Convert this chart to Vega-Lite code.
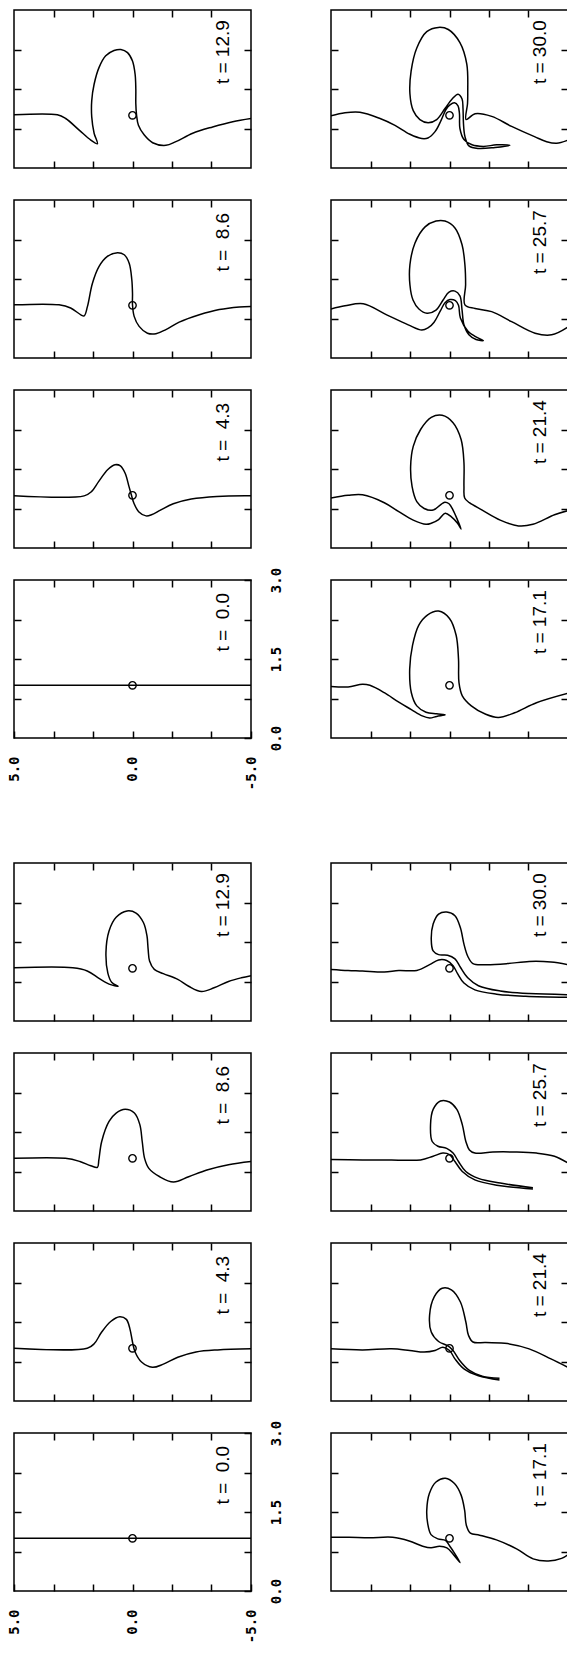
{
"$schema":"https://vega.github.io/schema/vega-lite/v6.json",
"padding":{"left":6,"top":8,"right":0,"bottom":0},
"config":{"view":{"stroke":"black","strokeWidth":1.5},"axis":{"domain":false,"grid":false,"tickColor":"black","tickWidth":1.5,"labelColor":"black","labelFont":"DejaVu Sans Mono","labelFontWeight":"bold","labelFontSize":14}},
"datasets":{
"vortex":[{"p":"A0.0","h":0,"v":1},{"p":"A4.3","h":0,"v":1},{"p":"A8.6","h":0,"v":1},{"p":"A12.9","h":0,"v":1},{"p":"A17.1","h":0,"v":1},{"p":"A21.4","h":0,"v":1},{"p":"A25.7","h":0,"v":1},{"p":"A30.0","h":0,"v":1},{"p":"B0.0","h":0,"v":1},{"p":"B4.3","h":0,"v":1},{"p":"B8.6","h":0,"v":1},{"p":"B12.9","h":0,"v":1},{"p":"B17.1","h":0,"v":1},{"p":"B21.4","h":0,"v":1},{"p":"B25.7","h":0,"v":1},{"p":"B30.0","h":0,"v":1}],
"tags":[{"p":"A0.0","label":"t = \u00a00.0"},{"p":"A4.3","label":"t = \u00a04.3"},{"p":"A8.6","label":"t = \u00a08.6"},{"p":"A12.9","label":"t = 12.9"},{"p":"A17.1","label":"t = 17.1"},{"p":"A21.4","label":"t = 21.4"},{"p":"A25.7","label":"t = 25.7"},{"p":"A30.0","label":"t = 30.0"},{"p":"B0.0","label":"t = \u00a00.0"},{"p":"B4.3","label":"t = \u00a04.3"},{"p":"B8.6","label":"t = \u00a08.6"},{"p":"B12.9","label":"t = 12.9"},{"p":"B17.1","label":"t = 17.1"},{"p":"B21.4","label":"t = 21.4"},{"p":"B25.7","label":"t = 25.7"},{"p":"B30.0","label":"t = 30.0"}],
"curves":[
{"p":"A0.0","s":1,"i":1,"h":5,"v":1},{"p":"A0.0","s":1,"i":2,"h":-5,"v":1},
{"p":"B0.0","s":1,"i":1,"h":5,"v":1},{"p":"B0.0","s":1,"i":2,"h":-5,"v":1},
{"p":"A4.3","s":1,"i":1,"h":5,"v":0.99},{"p":"A4.3","s":1,"i":2,"h":2.04,"v":0.99},{"p":"A4.3","s":1,"i":3,"h":1.73,"v":1.07},{"p":"A4.3","s":1,"i":4,"h":1.43,"v":1.26},{"p":"A4.3","s":1,"i":5,"h":1.04,"v":1.49},{"p":"A4.3","s":1,"i":6,"h":0.74,"v":1.58},{"p":"A4.3","s":1,"i":7,"h":0.51,"v":1.56},{"p":"A4.3","s":1,"i":8,"h":0.31,"v":1.42},{"p":"A4.3","s":1,"i":9,"h":0.15,"v":1.17},{"p":"A4.3","s":1,"i":10,"h":0.05,"v":1.01},{"p":"A4.3","s":1,"i":11,"h":-0.06,"v":0.85},{"p":"A4.3","s":1,"i":12,"h":-0.26,"v":0.69},{"p":"A4.3","s":1,"i":13,"h":-0.57,"v":0.61},{"p":"A4.3","s":1,"i":14,"h":-0.8,"v":0.63},{"p":"A4.3","s":1,"i":15,"h":-1.18,"v":0.72},{"p":"A4.3","s":1,"i":16,"h":-1.72,"v":0.84},{"p":"A4.3","s":1,"i":17,"h":-2.48,"v":0.93},{"p":"A4.3","s":1,"i":18,"h":-3.56,"v":0.98},{"p":"A4.3","s":1,"i":19,"h":-5,"v":0.99},
{"p":"A8.6","s":1,"i":1,"h":5,"v":1.01},{"p":"A8.6","s":1,"i":2,"h":3.1,"v":1.01},{"p":"A8.6","s":1,"i":3,"h":2.61,"v":0.95},{"p":"A8.6","s":1,"i":4,"h":2.18,"v":0.82},{"p":"A8.6","s":1,"i":5,"h":2.04,"v":0.8},{"p":"A8.6","s":1,"i":6,"h":1.9,"v":0.98},{"p":"A8.6","s":1,"i":7,"h":1.69,"v":1.42},{"p":"A8.6","s":1,"i":8,"h":1.41,"v":1.74},{"p":"A8.6","s":1,"i":9,"h":1.06,"v":1.93},{"p":"A8.6","s":1,"i":10,"h":0.63,"v":2.0},{"p":"A8.6","s":1,"i":11,"h":0.35,"v":1.96},{"p":"A8.6","s":1,"i":12,"h":0.14,"v":1.8},{"p":"A8.6","s":1,"i":13,"h":0.03,"v":1.49},{"p":"A8.6","s":1,"i":14,"h":0,"v":1.23},{"p":"A8.6","s":1,"i":15,"h":0,"v":1.01},{"p":"A8.6","s":1,"i":16,"h":-0.07,"v":0.79},{"p":"A8.6","s":1,"i":17,"h":-0.28,"v":0.6},{"p":"A8.6","s":1,"i":18,"h":-0.63,"v":0.47},{"p":"A8.6","s":1,"i":19,"h":-0.99,"v":0.46},{"p":"A8.6","s":1,"i":20,"h":-1.41,"v":0.54},{"p":"A8.6","s":1,"i":21,"h":-1.97,"v":0.68},{"p":"A8.6","s":1,"i":22,"h":-2.82,"v":0.82},{"p":"A8.6","s":1,"i":23,"h":-3.66,"v":0.92},{"p":"A8.6","s":1,"i":24,"h":-4.51,"v":0.97},{"p":"A8.6","s":1,"i":25,"h":-5,"v":0.98},
{"p":"A12.9","s":1,"i":1,"h":5,"v":1.01},{"p":"A12.9","s":1,"i":2,"h":3.17,"v":1.01},{"p":"A12.9","s":1,"i":3,"h":2.82,"v":0.94},{"p":"A12.9","s":1,"i":4,"h":2.25,"v":0.72},{"p":"A12.9","s":1,"i":5,"h":1.76,"v":0.53},{"p":"A12.9","s":1,"i":6,"h":1.48,"v":0.46},{"p":"A12.9","s":1,"i":7,"h":1.62,"v":0.66},{"p":"A12.9","s":1,"i":8,"h":1.72,"v":0.97},{"p":"A12.9","s":1,"i":9,"h":1.72,"v":1.28},{"p":"A12.9","s":1,"i":10,"h":1.62,"v":1.59},{"p":"A12.9","s":1,"i":11,"h":1.41,"v":1.91},{"p":"A12.9","s":1,"i":12,"h":1.13,"v":2.13},{"p":"A12.9","s":1,"i":13,"h":0.78,"v":2.23},{"p":"A12.9","s":1,"i":14,"h":0.49,"v":2.25},{"p":"A12.9","s":1,"i":15,"h":0.21,"v":2.19},{"p":"A12.9","s":1,"i":16,"h":0,"v":2.03},{"p":"A12.9","s":1,"i":17,"h":-0.11,"v":1.78},{"p":"A12.9","s":1,"i":18,"h":-0.14,"v":1.5},{"p":"A12.9","s":1,"i":19,"h":-0.14,"v":1.22},{"p":"A12.9","s":1,"i":20,"h":-0.17,"v":1.01},{"p":"A12.9","s":1,"i":21,"h":-0.25,"v":0.81},{"p":"A12.9","s":1,"i":22,"h":-0.49,"v":0.63},{"p":"A12.9","s":1,"i":23,"h":-0.85,"v":0.48},{"p":"A12.9","s":1,"i":24,"h":-1.41,"v":0.43},{"p":"A12.9","s":1,"i":25,"h":-1.83,"v":0.5},{"p":"A12.9","s":1,"i":26,"h":-2.54,"v":0.66},{"p":"A12.9","s":1,"i":27,"h":-3.38,"v":0.78},{"p":"A12.9","s":1,"i":28,"h":-4.23,"v":0.88},{"p":"A12.9","s":1,"i":29,"h":-5,"v":0.94},
{"p":"A17.1","s":1,"i":1,"h":-5,"v":0.85},{"p":"A17.1","s":1,"i":2,"h":-3.67,"v":0.67},{"p":"A17.1","s":1,"i":3,"h":-2.75,"v":0.48},{"p":"A17.1","s":1,"i":4,"h":-2.06,"v":0.39},{"p":"A17.1","s":1,"i":5,"h":-1.53,"v":0.45},{"p":"A17.1","s":1,"i":6,"h":-0.92,"v":0.61},{"p":"A17.1","s":1,"i":7,"h":-0.54,"v":0.8},{"p":"A17.1","s":1,"i":8,"h":-0.4,"v":1.05},{"p":"A17.1","s":1,"i":9,"h":-0.38,"v":1.5},{"p":"A17.1","s":1,"i":10,"h":-0.28,"v":1.95},{"p":"A17.1","s":1,"i":11,"h":0,"v":2.27},{"p":"A17.1","s":1,"i":12,"h":0.46,"v":2.41},{"p":"A17.1","s":1,"i":13,"h":0.92,"v":2.34},{"p":"A17.1","s":1,"i":14,"h":1.3,"v":2.14},{"p":"A17.1","s":1,"i":15,"h":1.56,"v":1.76},{"p":"A17.1","s":1,"i":16,"h":1.68,"v":1.31},{"p":"A17.1","s":1,"i":17,"h":1.61,"v":0.86},{"p":"A17.1","s":1,"i":18,"h":1.38,"v":0.61},{"p":"A17.1","s":1,"i":19,"h":0.99,"v":0.49},{"p":"A17.1","s":1,"i":20,"h":0.54,"v":0.46},{"p":"A17.1","s":1,"i":21,"h":0.18,"v":0.44},{"p":"A17.1","s":1,"i":22,"h":0.54,"v":0.41},{"p":"A17.1","s":1,"i":23,"h":0.84,"v":0.38},{"p":"A17.1","s":1,"i":24,"h":1.15,"v":0.42},{"p":"A17.1","s":1,"i":25,"h":1.61,"v":0.54},{"p":"A17.1","s":1,"i":26,"h":2.14,"v":0.68},{"p":"A17.1","s":1,"i":27,"h":2.75,"v":0.86},{"p":"A17.1","s":1,"i":28,"h":3.36,"v":1.0},{"p":"A17.1","s":1,"i":29,"h":3.67,"v":1.02},{"p":"A17.1","s":1,"i":30,"h":4.28,"v":0.97},{"p":"A17.1","s":1,"i":31,"h":5,"v":0.98},
{"p":"A21.4","s":1,"i":1,"h":-5,"v":0.71},{"p":"A21.4","s":1,"i":2,"h":-4.43,"v":0.63},{"p":"A21.4","s":1,"i":3,"h":-3.52,"v":0.45},{"p":"A21.4","s":1,"i":4,"h":-2.91,"v":0.42},{"p":"A21.4","s":1,"i":5,"h":-2.14,"v":0.53},{"p":"A21.4","s":1,"i":6,"h":-1.38,"v":0.72},{"p":"A21.4","s":1,"i":7,"h":-0.84,"v":0.86},{"p":"A21.4","s":1,"i":8,"h":-0.64,"v":0.95},{"p":"A21.4","s":1,"i":9,"h":-0.61,"v":1.17},{"p":"A21.4","s":1,"i":10,"h":-0.61,"v":1.62},{"p":"A21.4","s":1,"i":11,"h":-0.49,"v":2.06},{"p":"A21.4","s":1,"i":12,"h":-0.15,"v":2.38},{"p":"A21.4","s":1,"i":13,"h":0.31,"v":2.52},{"p":"A21.4","s":1,"i":14,"h":0.77,"v":2.48},{"p":"A21.4","s":1,"i":15,"h":1.22,"v":2.25},{"p":"A21.4","s":1,"i":16,"h":1.53,"v":1.93},{"p":"A21.4","s":1,"i":17,"h":1.64,"v":1.55},{"p":"A21.4","s":1,"i":18,"h":1.58,"v":1.17},{"p":"A21.4","s":1,"i":19,"h":1.38,"v":0.88},{"p":"A21.4","s":1,"i":20,"h":1.07,"v":0.75},{"p":"A21.4","s":1,"i":21,"h":0.69,"v":0.72},{"p":"A21.4","s":1,"i":22,"h":0.38,"v":0.82},{"p":"A21.4","s":1,"i":23,"h":0.2,"v":0.87},{"p":"A21.4","s":1,"i":24,"h":0.02,"v":0.84},{"p":"A21.4","s":1,"i":25,"h":-0.15,"v":0.72},{"p":"A21.4","s":1,"i":26,"h":-0.34,"v":0.53},{"p":"A21.4","s":1,"i":27,"h":-0.49,"v":0.36},{"p":"A21.4","s":1,"i":28,"h":-0.34,"v":0.47},{"p":"A21.4","s":1,"i":29,"h":-0.08,"v":0.59},{"p":"A21.4","s":1,"i":30,"h":0.18,"v":0.66},{"p":"A21.4","s":1,"i":31,"h":0.46,"v":0.54},{"p":"A21.4","s":1,"i":32,"h":0.77,"v":0.47},{"p":"A21.4","s":1,"i":33,"h":0.99,"v":0.45},{"p":"A21.4","s":1,"i":34,"h":1.53,"v":0.53},{"p":"A21.4","s":1,"i":35,"h":2.14,"v":0.69},{"p":"A21.4","s":1,"i":36,"h":2.75,"v":0.86},{"p":"A21.4","s":1,"i":37,"h":3.67,"v":1.01},{"p":"A21.4","s":1,"i":38,"h":4.28,"v":1.0},{"p":"A21.4","s":1,"i":39,"h":5,"v":0.95},
{"p":"A25.7","s":1,"i":1,"h":-5,"v":0.59},{"p":"A25.7","s":1,"i":2,"h":-4.31,"v":0.44},{"p":"A25.7","s":1,"i":3,"h":-3.61,"v":0.47},{"p":"A25.7","s":1,"i":4,"h":-2.62,"v":0.69},{"p":"A25.7","s":1,"i":5,"h":-1.78,"v":0.88},{"p":"A25.7","s":1,"i":6,"h":-1.08,"v":0.94},{"p":"A25.7","s":1,"i":7,"h":-0.65,"v":1.01},{"p":"A25.7","s":1,"i":8,"h":-0.68,"v":1.39},{"p":"A25.7","s":1,"i":9,"h":-0.65,"v":1.77},{"p":"A25.7","s":1,"i":10,"h":-0.53,"v":2.15},{"p":"A25.7","s":1,"i":11,"h":-0.23,"v":2.47},{"p":"A25.7","s":1,"i":12,"h":0.19,"v":2.6},{"p":"A25.7","s":1,"i":13,"h":0.57,"v":2.6},{"p":"A25.7","s":1,"i":14,"h":1.03,"v":2.49},{"p":"A25.7","s":1,"i":15,"h":1.46,"v":2.18},{"p":"A25.7","s":1,"i":16,"h":1.67,"v":1.77},{"p":"A25.7","s":1,"i":17,"h":1.67,"v":1.39},{"p":"A25.7","s":1,"i":18,"h":1.54,"v":1.1},{"p":"A25.7","s":1,"i":19,"h":1.29,"v":0.93},{"p":"A25.7","s":1,"i":20,"h":0.95,"v":0.85},{"p":"A25.7","s":1,"i":21,"h":0.57,"v":0.91},{"p":"A25.7","s":1,"i":22,"h":0.27,"v":1.1},{"p":"A25.7","s":1,"i":23,"h":0.02,"v":1.25},{"p":"A25.7","s":1,"i":24,"h":-0.23,"v":1.27},{"p":"A25.7","s":1,"i":25,"h":-0.44,"v":1.18},{"p":"A25.7","s":1,"i":26,"h":-0.53,"v":0.91},{"p":"A25.7","s":1,"i":27,"h":-0.61,"v":0.63},{"p":"A25.7","s":1,"i":28,"h":-0.82,"v":0.44},{"p":"A25.7","s":1,"i":29,"h":-1.12,"v":0.35},{"p":"A25.7","s":1,"i":30,"h":-1.43,"v":0.33},{"p":"A25.7","s":1,"i":31,"h":-1.08,"v":0.41},{"p":"A25.7","s":1,"i":32,"h":-0.78,"v":0.51},{"p":"A25.7","s":1,"i":33,"h":-0.46,"v":0.76},{"p":"A25.7","s":1,"i":34,"h":-0.38,"v":1.0},{"p":"A25.7","s":1,"i":35,"h":-0.25,"v":1.09},{"p":"A25.7","s":1,"i":36,"h":-0.02,"v":1.11},{"p":"A25.7","s":1,"i":37,"h":0.19,"v":1.05},{"p":"A25.7","s":1,"i":38,"h":0.38,"v":0.9},{"p":"A25.7","s":1,"i":39,"h":0.65,"v":0.68},{"p":"A25.7","s":1,"i":40,"h":0.91,"v":0.57},{"p":"A25.7","s":1,"i":41,"h":1.17,"v":0.53},{"p":"A25.7","s":1,"i":42,"h":1.74,"v":0.63},{"p":"A25.7","s":1,"i":43,"h":2.65,"v":0.82},{"p":"A25.7","s":1,"i":44,"h":3.64,"v":1.03},{"p":"A25.7","s":1,"i":45,"h":4.41,"v":0.99},{"p":"A25.7","s":1,"i":46,"h":5,"v":0.93},
{"p":"A30.0","s":1,"i":1,"h":-5,"v":0.53},{"p":"A30.0","s":1,"i":2,"h":-4.52,"v":0.47},{"p":"A30.0","s":1,"i":3,"h":-4.1,"v":0.5},{"p":"A30.0","s":1,"i":4,"h":-3.61,"v":0.59},{"p":"A30.0","s":1,"i":5,"h":-2.62,"v":0.79},{"p":"A30.0","s":1,"i":6,"h":-1.78,"v":0.98},{"p":"A30.0","s":1,"i":7,"h":-1.08,"v":1.03},{"p":"A30.0","s":1,"i":8,"h":-0.7,"v":0.92},{"p":"A30.0","s":1,"i":9,"h":-0.76,"v":1.22},{"p":"A30.0","s":1,"i":10,"h":-0.77,"v":1.44},{"p":"A30.0","s":1,"i":11,"h":-0.73,"v":1.97},{"p":"A30.0","s":1,"i":12,"h":-0.44,"v":2.38},{"p":"A30.0","s":1,"i":13,"h":0.05,"v":2.63},{"p":"A30.0","s":1,"i":14,"h":0.47,"v":2.67},{"p":"A30.0","s":1,"i":15,"h":0.96,"v":2.59},{"p":"A30.0","s":1,"i":16,"h":1.38,"v":2.28},{"p":"A30.0","s":1,"i":17,"h":1.62,"v":1.84},{"p":"A30.0","s":1,"i":18,"h":1.67,"v":1.41},{"p":"A30.0","s":1,"i":19,"h":1.53,"v":1.09},{"p":"A30.0","s":1,"i":20,"h":1.25,"v":0.92},{"p":"A30.0","s":1,"i":21,"h":0.9,"v":0.86},{"p":"A30.0","s":1,"i":22,"h":0.54,"v":0.92},{"p":"A30.0","s":1,"i":23,"h":0.19,"v":1.13},{"p":"A30.0","s":1,"i":24,"h":-0.11,"v":1.31},{"p":"A30.0","s":1,"i":25,"h":-0.36,"v":1.4},{"p":"A30.0","s":1,"i":26,"h":-0.53,"v":1.31},{"p":"A30.0","s":1,"i":27,"h":-0.57,"v":1.13},{"p":"A30.0","s":1,"i":28,"h":-0.59,"v":0.84},{"p":"A30.0","s":1,"i":29,"h":-0.65,"v":0.6},{"p":"A30.0","s":1,"i":30,"h":-0.82,"v":0.42},{"p":"A30.0","s":1,"i":31,"h":-1.22,"v":0.37},{"p":"A30.0","s":1,"i":32,"h":-1.92,"v":0.39},{"p":"A30.0","s":1,"i":33,"h":-2.55,"v":0.43},{"p":"A30.0","s":1,"i":34,"h":-1.99,"v":0.44},{"p":"A30.0","s":1,"i":35,"h":-1.43,"v":0.41},{"p":"A30.0","s":1,"i":36,"h":-0.95,"v":0.44},{"p":"A30.0","s":1,"i":37,"h":-0.61,"v":0.54},{"p":"A30.0","s":1,"i":38,"h":-0.44,"v":0.75},{"p":"A30.0","s":1,"i":39,"h":-0.42,"v":1.03},{"p":"A30.0","s":1,"i":40,"h":-0.36,"v":1.18},{"p":"A30.0","s":1,"i":41,"h":-0.21,"v":1.24},{"p":"A30.0","s":1,"i":42,"h":-0.02,"v":1.2},{"p":"A30.0","s":1,"i":43,"h":0.15,"v":1.11},{"p":"A30.0","s":1,"i":44,"h":0.36,"v":0.9},{"p":"A30.0","s":1,"i":45,"h":0.61,"v":0.69},{"p":"A30.0","s":1,"i":46,"h":0.91,"v":0.57},{"p":"A30.0","s":1,"i":47,"h":1.17,"v":0.56},{"p":"A30.0","s":1,"i":48,"h":1.67,"v":0.64},{"p":"A30.0","s":1,"i":49,"h":2.3,"v":0.81},{"p":"A30.0","s":1,"i":50,"h":2.93,"v":0.94},{"p":"A30.0","s":1,"i":51,"h":3.78,"v":1.06},{"p":"A30.0","s":1,"i":52,"h":4.41,"v":1.05},{"p":"A30.0","s":1,"i":53,"h":5,"v":0.99},
{"p":"B4.3","s":1,"i":1,"h":5,"v":1.0},{"p":"B4.3","s":1,"i":2,"h":1.91,"v":1.0},{"p":"B4.3","s":1,"i":3,"h":1.61,"v":1.09},{"p":"B4.3","s":1,"i":4,"h":1.3,"v":1.31},{"p":"B4.3","s":1,"i":5,"h":0.92,"v":1.51},{"p":"B4.3","s":1,"i":6,"h":0.54,"v":1.6},{"p":"B4.3","s":1,"i":7,"h":0.26,"v":1.55},{"p":"B4.3","s":1,"i":8,"h":0.11,"v":1.37},{"p":"B4.3","s":1,"i":9,"h":0,"v":1.12},{"p":"B4.3","s":1,"i":10,"h":-0.11,"v":0.93},{"p":"B4.3","s":1,"i":11,"h":-0.38,"v":0.74},{"p":"B4.3","s":1,"i":12,"h":-0.84,"v":0.64},{"p":"B4.3","s":1,"i":13,"h":-1.3,"v":0.7},{"p":"B4.3","s":1,"i":14,"h":-1.91,"v":0.83},{"p":"B4.3","s":1,"i":15,"h":-2.68,"v":0.93},{"p":"B4.3","s":1,"i":16,"h":-3.59,"v":0.97},{"p":"B4.3","s":1,"i":17,"h":-5,"v":0.99},
{"p":"B8.6","s":1,"i":1,"h":5,"v":1.0},{"p":"B8.6","s":1,"i":2,"h":2.83,"v":1.0},{"p":"B8.6","s":1,"i":3,"h":2.22,"v":0.94},{"p":"B8.6","s":1,"i":4,"h":1.76,"v":0.86},{"p":"B8.6","s":1,"i":5,"h":1.48,"v":0.83},{"p":"B8.6","s":1,"i":6,"h":1.42,"v":0.97},{"p":"B8.6","s":1,"i":7,"h":1.3,"v":1.32},{"p":"B8.6","s":1,"i":8,"h":0.99,"v":1.7},{"p":"B8.6","s":1,"i":9,"h":0.69,"v":1.86},{"p":"B8.6","s":1,"i":10,"h":0.31,"v":1.93},{"p":"B8.6","s":1,"i":11,"h":-0.08,"v":1.86},{"p":"B8.6","s":1,"i":12,"h":-0.31,"v":1.64},{"p":"B8.6","s":1,"i":13,"h":-0.41,"v":1.32},{"p":"B8.6","s":1,"i":14,"h":-0.51,"v":1.0},{"p":"B8.6","s":1,"i":15,"h":-0.69,"v":0.81},{"p":"B8.6","s":1,"i":16,"h":-1.15,"v":0.65},{"p":"B8.6","s":1,"i":17,"h":-1.73,"v":0.55},{"p":"B8.6","s":1,"i":18,"h":-2.37,"v":0.65},{"p":"B8.6","s":1,"i":19,"h":-3.14,"v":0.78},{"p":"B8.6","s":1,"i":20,"h":-4.05,"v":0.88},{"p":"B8.6","s":1,"i":21,"h":-5,"v":0.94},
{"p":"B12.9","s":1,"i":1,"h":5,"v":1.01},{"p":"B12.9","s":1,"i":2,"h":2.52,"v":1.01},{"p":"B12.9","s":1,"i":3,"h":1.91,"v":0.95},{"p":"B12.9","s":1,"i":4,"h":1.38,"v":0.8},{"p":"B12.9","s":1,"i":5,"h":0.92,"v":0.69},{"p":"B12.9","s":1,"i":6,"h":0.61,"v":0.66},{"p":"B12.9","s":1,"i":7,"h":0.87,"v":0.73},{"p":"B12.9","s":1,"i":8,"h":1.04,"v":0.91},{"p":"B12.9","s":1,"i":9,"h":1.12,"v":1.3},{"p":"B12.9","s":1,"i":10,"h":0.99,"v":1.71},{"p":"B12.9","s":1,"i":11,"h":0.69,"v":1.97},{"p":"B12.9","s":1,"i":12,"h":0.23,"v":2.09},{"p":"B12.9","s":1,"i":13,"h":-0.15,"v":2.05},{"p":"B12.9","s":1,"i":14,"h":-0.46,"v":1.87},{"p":"B12.9","s":1,"i":15,"h":-0.61,"v":1.62},{"p":"B12.9","s":1,"i":16,"h":-0.66,"v":1.36},{"p":"B12.9","s":1,"i":17,"h":-0.72,"v":1.14},{"p":"B12.9","s":1,"i":18,"h":-0.92,"v":0.98},{"p":"B12.9","s":1,"i":19,"h":-1.3,"v":0.9},{"p":"B12.9","s":1,"i":20,"h":-1.91,"v":0.79},{"p":"B12.9","s":1,"i":21,"h":-2.37,"v":0.66},{"p":"B12.9","s":1,"i":22,"h":-2.91,"v":0.56},{"p":"B12.9","s":1,"i":23,"h":-3.44,"v":0.63},{"p":"B12.9","s":1,"i":24,"h":-4.05,"v":0.75},{"p":"B12.9","s":1,"i":25,"h":-4.59,"v":0.82},{"p":"B12.9","s":1,"i":26,"h":-5,"v":0.86},
{"p":"B17.1","s":1,"i":1,"h":5,"v":1.02},{"p":"B17.1","s":1,"i":2,"h":4.24,"v":1.02},{"p":"B17.1","s":1,"i":3,"h":3.39,"v":1.01},{"p":"B17.1","s":1,"i":4,"h":2.4,"v":1.02},{"p":"B17.1","s":1,"i":5,"h":1.7,"v":0.95},{"p":"B17.1","s":1,"i":6,"h":1.13,"v":0.85},{"p":"B17.1","s":1,"i":7,"h":0.78,"v":0.82},{"p":"B17.1","s":1,"i":8,"h":0.42,"v":0.85},{"p":"B17.1","s":1,"i":9,"h":0.11,"v":0.82},{"p":"B17.1","s":1,"i":10,"h":-0.17,"v":0.69},{"p":"B17.1","s":1,"i":11,"h":-0.45,"v":0.54},{"p":"B17.1","s":1,"i":12,"h":-0.21,"v":0.72},{"p":"B17.1","s":1,"i":13,"h":0,"v":0.86},{"p":"B17.1","s":1,"i":14,"h":0.17,"v":0.96},{"p":"B17.1","s":1,"i":15,"h":0.49,"v":0.99},{"p":"B17.1","s":1,"i":16,"h":0.78,"v":1.07},{"p":"B17.1","s":1,"i":17,"h":0.92,"v":1.28},{"p":"B17.1","s":1,"i":18,"h":0.96,"v":1.53},{"p":"B17.1","s":1,"i":19,"h":0.85,"v":1.85},{"p":"B17.1","s":1,"i":20,"h":0.57,"v":2.07},{"p":"B17.1","s":1,"i":21,"h":0.17,"v":2.14},{"p":"B17.1","s":1,"i":22,"h":-0.21,"v":2.04},{"p":"B17.1","s":1,"i":23,"h":-0.49,"v":1.82},{"p":"B17.1","s":1,"i":24,"h":-0.64,"v":1.53},{"p":"B17.1","s":1,"i":25,"h":-0.71,"v":1.25},{"p":"B17.1","s":1,"i":26,"h":-0.88,"v":1.1},{"p":"B17.1","s":1,"i":27,"h":-1.27,"v":1.06},{"p":"B17.1","s":1,"i":28,"h":-1.98,"v":0.97},{"p":"B17.1","s":1,"i":29,"h":-2.83,"v":0.8},{"p":"B17.1","s":1,"i":30,"h":-3.53,"v":0.61},{"p":"B17.1","s":1,"i":31,"h":-4.17,"v":0.57},{"p":"B17.1","s":1,"i":32,"h":-4.73,"v":0.62},{"p":"B17.1","s":1,"i":33,"h":-5,"v":0.69},
{"p":"B21.4","s":1,"i":1,"h":5,"v":0.99},{"p":"B21.4","s":1,"i":2,"h":3.67,"v":0.97},{"p":"B21.4","s":1,"i":3,"h":2.45,"v":0.99},{"p":"B21.4","s":1,"i":4,"h":1.68,"v":0.96},{"p":"B21.4","s":1,"i":5,"h":1.07,"v":0.93},{"p":"B21.4","s":1,"i":6,"h":0.61,"v":0.96},{"p":"B21.4","s":1,"i":7,"h":0.28,"v":1.02},{"p":"B21.4","s":1,"i":8,"h":0,"v":0.96},{"p":"B21.4","s":1,"i":9,"h":-0.23,"v":0.8},{"p":"B21.4","s":1,"i":10,"h":-0.61,"v":0.61},{"p":"B21.4","s":1,"i":11,"h":-1.22,"v":0.48},{"p":"B21.4","s":1,"i":12,"h":-2.11,"v":0.4},
{"p":"B21.4","s":2,"i":1,"h":-5,"v":0.64},{"p":"B21.4","s":2,"i":2,"h":-4.28,"v":0.8},{"p":"B21.4","s":2,"i":3,"h":-3.36,"v":0.99},{"p":"B21.4","s":2,"i":4,"h":-2.45,"v":1.09},{"p":"B21.4","s":2,"i":5,"h":-1.53,"v":1.11},{"p":"B21.4","s":2,"i":6,"h":-0.99,"v":1.12},{"p":"B21.4","s":2,"i":7,"h":-0.8,"v":1.25},{"p":"B21.4","s":2,"i":8,"h":-0.69,"v":1.5},{"p":"B21.4","s":2,"i":9,"h":-0.46,"v":1.88},{"p":"B21.4","s":2,"i":10,"h":-0.08,"v":2.11},{"p":"B21.4","s":2,"i":11,"h":0.31,"v":2.14},{"p":"B21.4","s":2,"i":12,"h":0.64,"v":1.98},{"p":"B21.4","s":2,"i":13,"h":0.84,"v":1.63},{"p":"B21.4","s":2,"i":14,"h":0.77,"v":1.31},{"p":"B21.4","s":2,"i":15,"h":0.46,"v":1.13},{"p":"B21.4","s":2,"i":16,"h":0.08,"v":1.05},{"p":"B21.4","s":2,"i":17,"h":-0.15,"v":0.96},{"p":"B21.4","s":2,"i":18,"h":-0.43,"v":0.77},{"p":"B21.4","s":2,"i":19,"h":-0.84,"v":0.58},{"p":"B21.4","s":2,"i":20,"h":-1.38,"v":0.47},{"p":"B21.4","s":2,"i":21,"h":-2.11,"v":0.43},
{"p":"B25.7","s":1,"i":1,"h":5,"v":0.98},{"p":"B25.7","s":1,"i":2,"h":3.67,"v":0.97},{"p":"B25.7","s":1,"i":3,"h":2.45,"v":0.97},{"p":"B25.7","s":1,"i":4,"h":1.22,"v":0.97},{"p":"B25.7","s":1,"i":5,"h":0.69,"v":1.04},{"p":"B25.7","s":1,"i":6,"h":0.28,"v":1.1},{"p":"B25.7","s":1,"i":7,"h":0,"v":1.07},{"p":"B25.7","s":1,"i":8,"h":-0.23,"v":0.94},{"p":"B25.7","s":1,"i":9,"h":-0.54,"v":0.75},{"p":"B25.7","s":1,"i":10,"h":-1.07,"v":0.59},{"p":"B25.7","s":1,"i":11,"h":-1.99,"v":0.49},{"p":"B25.7","s":1,"i":12,"h":-3.52,"v":0.42},
{"p":"B25.7","s":2,"i":1,"h":-5,"v":0.91},{"p":"B25.7","s":2,"i":2,"h":-4.43,"v":1.04},{"p":"B25.7","s":2,"i":3,"h":-3.67,"v":1.1},{"p":"B25.7","s":2,"i":4,"h":-2.75,"v":1.12},{"p":"B25.7","s":2,"i":5,"h":-1.83,"v":1.12},{"p":"B25.7","s":2,"i":6,"h":-1.07,"v":1.1},{"p":"B25.7","s":2,"i":7,"h":-0.84,"v":1.16},{"p":"B25.7","s":2,"i":8,"h":-0.69,"v":1.32},{"p":"B25.7","s":2,"i":9,"h":-0.54,"v":1.64},{"p":"B25.7","s":2,"i":10,"h":-0.31,"v":1.93},{"p":"B25.7","s":2,"i":11,"h":0,"v":2.07},{"p":"B25.7","s":2,"i":12,"h":0.38,"v":2.09},{"p":"B25.7","s":2,"i":13,"h":0.69,"v":1.93},{"p":"B25.7","s":2,"i":14,"h":0.8,"v":1.64},{"p":"B25.7","s":2,"i":15,"h":0.73,"v":1.32},{"p":"B25.7","s":2,"i":16,"h":0.49,"v":1.23},{"p":"B25.7","s":2,"i":17,"h":0.12,"v":1.19},{"p":"B25.7","s":2,"i":18,"h":-0.15,"v":1.1},{"p":"B25.7","s":2,"i":19,"h":-0.38,"v":0.94},{"p":"B25.7","s":2,"i":20,"h":-0.69,"v":0.75},{"p":"B25.7","s":2,"i":21,"h":-1.22,"v":0.62},{"p":"B25.7","s":2,"i":22,"h":-2.14,"v":0.53},{"p":"B25.7","s":2,"i":23,"h":-3.52,"v":0.44},
{"p":"B30.0","s":1,"i":1,"h":5,"v":0.98},{"p":"B30.0","s":1,"i":2,"h":4.28,"v":0.96},{"p":"B30.0","s":1,"i":3,"h":3.67,"v":0.95},{"p":"B30.0","s":1,"i":4,"h":2.75,"v":0.93},{"p":"B30.0","s":1,"i":5,"h":2.14,"v":0.96},{"p":"B30.0","s":1,"i":6,"h":1.38,"v":0.96},{"p":"B30.0","s":1,"i":7,"h":0.84,"v":1.07},{"p":"B30.0","s":1,"i":8,"h":0.46,"v":1.16},{"p":"B30.0","s":1,"i":9,"h":0.12,"v":1.15},{"p":"B30.0","s":1,"i":10,"h":-0.15,"v":1.05},{"p":"B30.0","s":1,"i":11,"h":-0.34,"v":0.9},{"p":"B30.0","s":1,"i":12,"h":-0.61,"v":0.72},{"p":"B30.0","s":1,"i":13,"h":-1.07,"v":0.59},{"p":"B30.0","s":1,"i":14,"h":-1.99,"v":0.51},{"p":"B30.0","s":1,"i":15,"h":-3.21,"v":0.47},{"p":"B30.0","s":1,"i":16,"h":-5,"v":0.45},
{"p":"B30.0","s":2,"i":1,"h":-5,"v":1.07},{"p":"B30.0","s":2,"i":2,"h":-4.28,"v":1.12},{"p":"B30.0","s":2,"i":3,"h":-3.36,"v":1.13},{"p":"B30.0","s":2,"i":4,"h":-2.45,"v":1.09},{"p":"B30.0","s":2,"i":5,"h":-1.53,"v":1.07},{"p":"B30.0","s":2,"i":6,"h":-0.99,"v":1.09},{"p":"B30.0","s":2,"i":7,"h":-0.77,"v":1.23},{"p":"B30.0","s":2,"i":8,"h":-0.61,"v":1.46},{"p":"B30.0","s":2,"i":9,"h":-0.46,"v":1.77},{"p":"B30.0","s":2,"i":10,"h":-0.23,"v":2.0},{"p":"B30.0","s":2,"i":11,"h":0.12,"v":2.07},{"p":"B30.0","s":2,"i":12,"h":0.46,"v":2.03},{"p":"B30.0","s":2,"i":13,"h":0.69,"v":1.84},{"p":"B30.0","s":2,"i":14,"h":0.77,"v":1.55},{"p":"B30.0","s":2,"i":15,"h":0.69,"v":1.33},{"p":"B30.0","s":2,"i":16,"h":0.46,"v":1.26},{"p":"B30.0","s":2,"i":17,"h":0.08,"v":1.25},{"p":"B30.0","s":2,"i":18,"h":-0.23,"v":1.18},{"p":"B30.0","s":2,"i":19,"h":-0.46,"v":1.02},{"p":"B30.0","s":2,"i":20,"h":-0.77,"v":0.82},{"p":"B30.0","s":2,"i":21,"h":-1.22,"v":0.67},{"p":"B30.0","s":2,"i":22,"h":-2.14,"v":0.57},{"p":"B30.0","s":2,"i":23,"h":-3.36,"v":0.52},{"p":"B30.0","s":2,"i":24,"h":-5,"v":0.5}
]},
"vconcat":[
{"columns":2,"spacing":{"row":32,"column":80},"bounds":"flush","concat":[
  {"width":237,"height":158,"layer":[
   {"data":{"name":"curves"},"transform":[{"filter":"datum.p === 'A12.9'"}],"mark":{"type":"line","color":"black","strokeWidth":1.5,"interpolate":"catmull-rom","clip":true},"encoding":{"x":{"field":"h","type":"quantitative","scale":{"domain":[-5,5],"reverse":true,"nice":false,"zero":false},"axis":{"orient":"bottom","values":[-3.333,-1.667,0,1.667,3.333],"labels":false,"tickSize":-7,"title":null}},"y":{"field":"v","type":"quantitative","scale":{"domain":[0,3],"nice":false,"zero":false},"axis":{"orient":"left","values":[0.75,1.5,2.25],"labels":false,"tickSize":-7,"title":null}},"order":{"field":"i"},"detail":{"field":"s"}}},
   {"data":{"name":"vortex"},"transform":[{"filter":"datum.p === 'A12.9'"}],"mark":{"type":"point","shape":"circle","size":55,"filled":false,"color":"black","strokeWidth":1.4,"opacity":1},"encoding":{"x":{"field":"h","type":"quantitative","axis":{"orient":"top","values":[-3.333,-1.667,0,1.667,3.333],"labels":false,"tickSize":-7,"title":null}},"y":{"field":"v","type":"quantitative","axis":{"orient":"right","values":[0.75,1.5,2.25],"labels":false,"tickSize":-7,"title":null}}}},
   {"data":{"name":"tags"},"transform":[{"filter":"datum.p === 'A12.9'"}],"mark":{"type":"text","angle":270,"font":"Liberation Sans","fontSize":19,"align":"center","baseline":"middle","color":"black"},"encoding":{"x":{"datum":-3.8,"axis":null},"y":{"datum":2.2,"axis":null},"text":{"field":"label"}}}
  ],"resolve":{"axis":{"x":"independent","y":"independent"}}},
  {"width":237,"height":158,"layer":[
   {"data":{"name":"curves"},"transform":[{"filter":"datum.p === 'A30.0'"}],"mark":{"type":"line","color":"black","strokeWidth":1.5,"interpolate":"catmull-rom","clip":true},"encoding":{"x":{"field":"h","type":"quantitative","scale":{"domain":[-5,5],"reverse":true,"nice":false,"zero":false},"axis":{"orient":"bottom","values":[-3.333,-1.667,0,1.667,3.333],"labels":false,"tickSize":-7,"title":null}},"y":{"field":"v","type":"quantitative","scale":{"domain":[0,3],"nice":false,"zero":false},"axis":{"orient":"left","values":[0.75,1.5,2.25],"labels":false,"tickSize":-7,"title":null}},"order":{"field":"i"},"detail":{"field":"s"}}},
   {"data":{"name":"vortex"},"transform":[{"filter":"datum.p === 'A30.0'"}],"mark":{"type":"point","shape":"circle","size":55,"filled":false,"color":"black","strokeWidth":1.4,"opacity":1},"encoding":{"x":{"field":"h","type":"quantitative","axis":{"orient":"top","values":[-3.333,-1.667,0,1.667,3.333],"labels":false,"tickSize":-7,"title":null}},"y":{"field":"v","type":"quantitative","axis":{"orient":"right","values":[0.75,1.5,2.25],"labels":false,"tickSize":-7,"title":null}}}},
   {"data":{"name":"tags"},"transform":[{"filter":"datum.p === 'A30.0'"}],"mark":{"type":"text","angle":270,"font":"Liberation Sans","fontSize":19,"align":"center","baseline":"middle","color":"black"},"encoding":{"x":{"datum":-3.8,"axis":null},"y":{"datum":2.2,"axis":null},"text":{"field":"label"}}}
  ],"resolve":{"axis":{"x":"independent","y":"independent"}}},
  {"width":237,"height":158,"layer":[
   {"data":{"name":"curves"},"transform":[{"filter":"datum.p === 'A8.6'"}],"mark":{"type":"line","color":"black","strokeWidth":1.5,"interpolate":"catmull-rom","clip":true},"encoding":{"x":{"field":"h","type":"quantitative","scale":{"domain":[-5,5],"reverse":true,"nice":false,"zero":false},"axis":{"orient":"bottom","values":[-3.333,-1.667,0,1.667,3.333],"labels":false,"tickSize":-7,"title":null}},"y":{"field":"v","type":"quantitative","scale":{"domain":[0,3],"nice":false,"zero":false},"axis":{"orient":"left","values":[0.75,1.5,2.25],"labels":false,"tickSize":-7,"title":null}},"order":{"field":"i"},"detail":{"field":"s"}}},
   {"data":{"name":"vortex"},"transform":[{"filter":"datum.p === 'A8.6'"}],"mark":{"type":"point","shape":"circle","size":55,"filled":false,"color":"black","strokeWidth":1.4,"opacity":1},"encoding":{"x":{"field":"h","type":"quantitative","axis":{"orient":"top","values":[-3.333,-1.667,0,1.667,3.333],"labels":false,"tickSize":-7,"title":null}},"y":{"field":"v","type":"quantitative","axis":{"orient":"right","values":[0.75,1.5,2.25],"labels":false,"tickSize":-7,"title":null}}}},
   {"data":{"name":"tags"},"transform":[{"filter":"datum.p === 'A8.6'"}],"mark":{"type":"text","angle":270,"font":"Liberation Sans","fontSize":19,"align":"center","baseline":"middle","color":"black"},"encoding":{"x":{"datum":-3.8,"axis":null},"y":{"datum":2.2,"axis":null},"text":{"field":"label"}}}
  ],"resolve":{"axis":{"x":"independent","y":"independent"}}},
  {"width":237,"height":158,"layer":[
   {"data":{"name":"curves"},"transform":[{"filter":"datum.p === 'A25.7'"}],"mark":{"type":"line","color":"black","strokeWidth":1.5,"interpolate":"catmull-rom","clip":true},"encoding":{"x":{"field":"h","type":"quantitative","scale":{"domain":[-5,5],"reverse":true,"nice":false,"zero":false},"axis":{"orient":"bottom","values":[-3.333,-1.667,0,1.667,3.333],"labels":false,"tickSize":-7,"title":null}},"y":{"field":"v","type":"quantitative","scale":{"domain":[0,3],"nice":false,"zero":false},"axis":{"orient":"left","values":[0.75,1.5,2.25],"labels":false,"tickSize":-7,"title":null}},"order":{"field":"i"},"detail":{"field":"s"}}},
   {"data":{"name":"vortex"},"transform":[{"filter":"datum.p === 'A25.7'"}],"mark":{"type":"point","shape":"circle","size":55,"filled":false,"color":"black","strokeWidth":1.4,"opacity":1},"encoding":{"x":{"field":"h","type":"quantitative","axis":{"orient":"top","values":[-3.333,-1.667,0,1.667,3.333],"labels":false,"tickSize":-7,"title":null}},"y":{"field":"v","type":"quantitative","axis":{"orient":"right","values":[0.75,1.5,2.25],"labels":false,"tickSize":-7,"title":null}}}},
   {"data":{"name":"tags"},"transform":[{"filter":"datum.p === 'A25.7'"}],"mark":{"type":"text","angle":270,"font":"Liberation Sans","fontSize":19,"align":"center","baseline":"middle","color":"black"},"encoding":{"x":{"datum":-3.8,"axis":null},"y":{"datum":2.2,"axis":null},"text":{"field":"label"}}}
  ],"resolve":{"axis":{"x":"independent","y":"independent"}}},
  {"width":237,"height":158,"layer":[
   {"data":{"name":"curves"},"transform":[{"filter":"datum.p === 'A4.3'"}],"mark":{"type":"line","color":"black","strokeWidth":1.5,"interpolate":"catmull-rom","clip":true},"encoding":{"x":{"field":"h","type":"quantitative","scale":{"domain":[-5,5],"reverse":true,"nice":false,"zero":false},"axis":{"orient":"bottom","values":[-3.333,-1.667,0,1.667,3.333],"labels":false,"tickSize":-7,"title":null}},"y":{"field":"v","type":"quantitative","scale":{"domain":[0,3],"nice":false,"zero":false},"axis":{"orient":"left","values":[0.75,1.5,2.25],"labels":false,"tickSize":-7,"title":null}},"order":{"field":"i"},"detail":{"field":"s"}}},
   {"data":{"name":"vortex"},"transform":[{"filter":"datum.p === 'A4.3'"}],"mark":{"type":"point","shape":"circle","size":55,"filled":false,"color":"black","strokeWidth":1.4,"opacity":1},"encoding":{"x":{"field":"h","type":"quantitative","axis":{"orient":"top","values":[-3.333,-1.667,0,1.667,3.333],"labels":false,"tickSize":-7,"title":null}},"y":{"field":"v","type":"quantitative","axis":{"orient":"right","values":[0.75,1.5,2.25],"labels":false,"tickSize":-7,"title":null}}}},
   {"data":{"name":"tags"},"transform":[{"filter":"datum.p === 'A4.3'"}],"mark":{"type":"text","angle":270,"font":"Liberation Sans","fontSize":19,"align":"center","baseline":"middle","color":"black"},"encoding":{"x":{"datum":-3.8,"axis":null},"y":{"datum":2.2,"axis":null},"text":{"field":"label"}}}
  ],"resolve":{"axis":{"x":"independent","y":"independent"}}},
  {"width":237,"height":158,"layer":[
   {"data":{"name":"curves"},"transform":[{"filter":"datum.p === 'A21.4'"}],"mark":{"type":"line","color":"black","strokeWidth":1.5,"interpolate":"catmull-rom","clip":true},"encoding":{"x":{"field":"h","type":"quantitative","scale":{"domain":[-5,5],"reverse":true,"nice":false,"zero":false},"axis":{"orient":"bottom","values":[-3.333,-1.667,0,1.667,3.333],"labels":false,"tickSize":-7,"title":null}},"y":{"field":"v","type":"quantitative","scale":{"domain":[0,3],"nice":false,"zero":false},"axis":{"orient":"left","values":[0.75,1.5,2.25],"labels":false,"tickSize":-7,"title":null}},"order":{"field":"i"},"detail":{"field":"s"}}},
   {"data":{"name":"vortex"},"transform":[{"filter":"datum.p === 'A21.4'"}],"mark":{"type":"point","shape":"circle","size":55,"filled":false,"color":"black","strokeWidth":1.4,"opacity":1},"encoding":{"x":{"field":"h","type":"quantitative","axis":{"orient":"top","values":[-3.333,-1.667,0,1.667,3.333],"labels":false,"tickSize":-7,"title":null}},"y":{"field":"v","type":"quantitative","axis":{"orient":"right","values":[0.75,1.5,2.25],"labels":false,"tickSize":-7,"title":null}}}},
   {"data":{"name":"tags"},"transform":[{"filter":"datum.p === 'A21.4'"}],"mark":{"type":"text","angle":270,"font":"Liberation Sans","fontSize":19,"align":"center","baseline":"middle","color":"black"},"encoding":{"x":{"datum":-3.8,"axis":null},"y":{"datum":2.2,"axis":null},"text":{"field":"label"}}}
  ],"resolve":{"axis":{"x":"independent","y":"independent"}}},
  {"width":237,"height":158,"layer":[
   {"data":{"name":"curves"},"transform":[{"filter":"datum.p === 'A0.0'"}],"mark":{"type":"line","color":"black","strokeWidth":1.5,"interpolate":"catmull-rom","clip":true},"encoding":{"x":{"field":"h","type":"quantitative","scale":{"domain":[-5,5],"reverse":true,"nice":false,"zero":false},"axis":{"orient":"bottom","values":[-5,-3.333,-1.667,0,1.667,3.333,5],"labelExpr":"datum.value > 4.9 ? '5.0' : (datum.value < -4.9 ? '-5.0' : (abs(datum.value) < 0.01 ? '0.0' : ''))","labelAngle":270,"labelAlign":"right","labelBaseline":"middle","labelPadding":25,"labelFlush":false,"labelOverlap":false,"labelBound":false,"tickSize":-7,"title":null}},"y":{"field":"v","type":"quantitative","scale":{"domain":[0,3],"nice":false,"zero":false},"axis":{"orient":"left","values":[0.75,1.5,2.25],"labels":false,"tickSize":-7,"title":null}},"order":{"field":"i"},"detail":{"field":"s"}}},
   {"data":{"name":"vortex"},"transform":[{"filter":"datum.p === 'A0.0'"}],"mark":{"type":"point","shape":"circle","size":55,"filled":false,"color":"black","strokeWidth":1.4,"opacity":1},"encoding":{"x":{"field":"h","type":"quantitative","axis":{"orient":"top","values":[-3.333,-1.667,0,1.667,3.333],"labels":false,"tickSize":-7,"title":null}},"y":{"field":"v","type":"quantitative","axis":{"orient":"right","values":[0,0.75,1.5,2.25,3],"labelExpr":"datum.value < 0.01 ? '0.0' : (abs(datum.value - 1.5) < 0.01 ? '1.5' : (datum.value > 2.99 ? '3.0' : ''))","labelAngle":270,"labelAlign":"center","labelBaseline":"top","labelPadding":25,"labelFlush":false,"labelOverlap":false,"labelBound":false,"tickSize":-7,"title":null}}}},
   {"data":{"name":"tags"},"transform":[{"filter":"datum.p === 'A0.0'"}],"mark":{"type":"text","angle":270,"font":"Liberation Sans","fontSize":19,"align":"center","baseline":"middle","color":"black"},"encoding":{"x":{"datum":-3.8,"axis":null},"y":{"datum":2.2,"axis":null},"text":{"field":"label"}}}
  ],"resolve":{"axis":{"x":"independent","y":"independent"}}},
  {"width":237,"height":158,"layer":[
   {"data":{"name":"curves"},"transform":[{"filter":"datum.p === 'A17.1'"}],"mark":{"type":"line","color":"black","strokeWidth":1.5,"interpolate":"catmull-rom","clip":true},"encoding":{"x":{"field":"h","type":"quantitative","scale":{"domain":[-5,5],"reverse":true,"nice":false,"zero":false},"axis":{"orient":"bottom","values":[-3.333,-1.667,0,1.667,3.333],"labels":false,"tickSize":-7,"title":null}},"y":{"field":"v","type":"quantitative","scale":{"domain":[0,3],"nice":false,"zero":false},"axis":{"orient":"left","values":[0.75,1.5,2.25],"labels":false,"tickSize":-7,"title":null}},"order":{"field":"i"},"detail":{"field":"s"}}},
   {"data":{"name":"vortex"},"transform":[{"filter":"datum.p === 'A17.1'"}],"mark":{"type":"point","shape":"circle","size":55,"filled":false,"color":"black","strokeWidth":1.4,"opacity":1},"encoding":{"x":{"field":"h","type":"quantitative","axis":{"orient":"top","values":[-3.333,-1.667,0,1.667,3.333],"labels":false,"tickSize":-7,"title":null}},"y":{"field":"v","type":"quantitative","axis":{"orient":"right","values":[0.75,1.5,2.25],"labels":false,"tickSize":-7,"title":null}}}},
   {"data":{"name":"tags"},"transform":[{"filter":"datum.p === 'A17.1'"}],"mark":{"type":"text","angle":270,"font":"Liberation Sans","fontSize":19,"align":"center","baseline":"middle","color":"black"},"encoding":{"x":{"datum":-3.8,"axis":null},"y":{"datum":2.2,"axis":null},"text":{"field":"label"}}}
  ],"resolve":{"axis":{"x":"independent","y":"independent"}}}
]},
{"columns":2,"spacing":{"row":32,"column":80},"bounds":"flush","concat":[
  {"width":237,"height":158,"layer":[
   {"data":{"name":"curves"},"transform":[{"filter":"datum.p === 'B12.9'"}],"mark":{"type":"line","color":"black","strokeWidth":1.5,"interpolate":"catmull-rom","clip":true},"encoding":{"x":{"field":"h","type":"quantitative","scale":{"domain":[-5,5],"reverse":true,"nice":false,"zero":false},"axis":{"orient":"bottom","values":[-3.333,-1.667,0,1.667,3.333],"labels":false,"tickSize":-7,"title":null}},"y":{"field":"v","type":"quantitative","scale":{"domain":[0,3],"nice":false,"zero":false},"axis":{"orient":"left","values":[0.75,1.5,2.25],"labels":false,"tickSize":-7,"title":null}},"order":{"field":"i"},"detail":{"field":"s"}}},
   {"data":{"name":"vortex"},"transform":[{"filter":"datum.p === 'B12.9'"}],"mark":{"type":"point","shape":"circle","size":55,"filled":false,"color":"black","strokeWidth":1.4,"opacity":1},"encoding":{"x":{"field":"h","type":"quantitative","axis":{"orient":"top","values":[-3.333,-1.667,0,1.667,3.333],"labels":false,"tickSize":-7,"title":null}},"y":{"field":"v","type":"quantitative","axis":{"orient":"right","values":[0.75,1.5,2.25],"labels":false,"tickSize":-7,"title":null}}}},
   {"data":{"name":"tags"},"transform":[{"filter":"datum.p === 'B12.9'"}],"mark":{"type":"text","angle":270,"font":"Liberation Sans","fontSize":19,"align":"center","baseline":"middle","color":"black"},"encoding":{"x":{"datum":-3.8,"axis":null},"y":{"datum":2.2,"axis":null},"text":{"field":"label"}}}
  ],"resolve":{"axis":{"x":"independent","y":"independent"}}},
  {"width":237,"height":158,"layer":[
   {"data":{"name":"curves"},"transform":[{"filter":"datum.p === 'B30.0'"}],"mark":{"type":"line","color":"black","strokeWidth":1.5,"interpolate":"catmull-rom","clip":true},"encoding":{"x":{"field":"h","type":"quantitative","scale":{"domain":[-5,5],"reverse":true,"nice":false,"zero":false},"axis":{"orient":"bottom","values":[-3.333,-1.667,0,1.667,3.333],"labels":false,"tickSize":-7,"title":null}},"y":{"field":"v","type":"quantitative","scale":{"domain":[0,3],"nice":false,"zero":false},"axis":{"orient":"left","values":[0.75,1.5,2.25],"labels":false,"tickSize":-7,"title":null}},"order":{"field":"i"},"detail":{"field":"s"}}},
   {"data":{"name":"vortex"},"transform":[{"filter":"datum.p === 'B30.0'"}],"mark":{"type":"point","shape":"circle","size":55,"filled":false,"color":"black","strokeWidth":1.4,"opacity":1},"encoding":{"x":{"field":"h","type":"quantitative","axis":{"orient":"top","values":[-3.333,-1.667,0,1.667,3.333],"labels":false,"tickSize":-7,"title":null}},"y":{"field":"v","type":"quantitative","axis":{"orient":"right","values":[0.75,1.5,2.25],"labels":false,"tickSize":-7,"title":null}}}},
   {"data":{"name":"tags"},"transform":[{"filter":"datum.p === 'B30.0'"}],"mark":{"type":"text","angle":270,"font":"Liberation Sans","fontSize":19,"align":"center","baseline":"middle","color":"black"},"encoding":{"x":{"datum":-3.8,"axis":null},"y":{"datum":2.2,"axis":null},"text":{"field":"label"}}}
  ],"resolve":{"axis":{"x":"independent","y":"independent"}}},
  {"width":237,"height":158,"layer":[
   {"data":{"name":"curves"},"transform":[{"filter":"datum.p === 'B8.6'"}],"mark":{"type":"line","color":"black","strokeWidth":1.5,"interpolate":"catmull-rom","clip":true},"encoding":{"x":{"field":"h","type":"quantitative","scale":{"domain":[-5,5],"reverse":true,"nice":false,"zero":false},"axis":{"orient":"bottom","values":[-3.333,-1.667,0,1.667,3.333],"labels":false,"tickSize":-7,"title":null}},"y":{"field":"v","type":"quantitative","scale":{"domain":[0,3],"nice":false,"zero":false},"axis":{"orient":"left","values":[0.75,1.5,2.25],"labels":false,"tickSize":-7,"title":null}},"order":{"field":"i"},"detail":{"field":"s"}}},
   {"data":{"name":"vortex"},"transform":[{"filter":"datum.p === 'B8.6'"}],"mark":{"type":"point","shape":"circle","size":55,"filled":false,"color":"black","strokeWidth":1.4,"opacity":1},"encoding":{"x":{"field":"h","type":"quantitative","axis":{"orient":"top","values":[-3.333,-1.667,0,1.667,3.333],"labels":false,"tickSize":-7,"title":null}},"y":{"field":"v","type":"quantitative","axis":{"orient":"right","values":[0.75,1.5,2.25],"labels":false,"tickSize":-7,"title":null}}}},
   {"data":{"name":"tags"},"transform":[{"filter":"datum.p === 'B8.6'"}],"mark":{"type":"text","angle":270,"font":"Liberation Sans","fontSize":19,"align":"center","baseline":"middle","color":"black"},"encoding":{"x":{"datum":-3.8,"axis":null},"y":{"datum":2.2,"axis":null},"text":{"field":"label"}}}
  ],"resolve":{"axis":{"x":"independent","y":"independent"}}},
  {"width":237,"height":158,"layer":[
   {"data":{"name":"curves"},"transform":[{"filter":"datum.p === 'B25.7'"}],"mark":{"type":"line","color":"black","strokeWidth":1.5,"interpolate":"catmull-rom","clip":true},"encoding":{"x":{"field":"h","type":"quantitative","scale":{"domain":[-5,5],"reverse":true,"nice":false,"zero":false},"axis":{"orient":"bottom","values":[-3.333,-1.667,0,1.667,3.333],"labels":false,"tickSize":-7,"title":null}},"y":{"field":"v","type":"quantitative","scale":{"domain":[0,3],"nice":false,"zero":false},"axis":{"orient":"left","values":[0.75,1.5,2.25],"labels":false,"tickSize":-7,"title":null}},"order":{"field":"i"},"detail":{"field":"s"}}},
   {"data":{"name":"vortex"},"transform":[{"filter":"datum.p === 'B25.7'"}],"mark":{"type":"point","shape":"circle","size":55,"filled":false,"color":"black","strokeWidth":1.4,"opacity":1},"encoding":{"x":{"field":"h","type":"quantitative","axis":{"orient":"top","values":[-3.333,-1.667,0,1.667,3.333],"labels":false,"tickSize":-7,"title":null}},"y":{"field":"v","type":"quantitative","axis":{"orient":"right","values":[0.75,1.5,2.25],"labels":false,"tickSize":-7,"title":null}}}},
   {"data":{"name":"tags"},"transform":[{"filter":"datum.p === 'B25.7'"}],"mark":{"type":"text","angle":270,"font":"Liberation Sans","fontSize":19,"align":"center","baseline":"middle","color":"black"},"encoding":{"x":{"datum":-3.8,"axis":null},"y":{"datum":2.2,"axis":null},"text":{"field":"label"}}}
  ],"resolve":{"axis":{"x":"independent","y":"independent"}}},
  {"width":237,"height":158,"layer":[
   {"data":{"name":"curves"},"transform":[{"filter":"datum.p === 'B4.3'"}],"mark":{"type":"line","color":"black","strokeWidth":1.5,"interpolate":"catmull-rom","clip":true},"encoding":{"x":{"field":"h","type":"quantitative","scale":{"domain":[-5,5],"reverse":true,"nice":false,"zero":false},"axis":{"orient":"bottom","values":[-3.333,-1.667,0,1.667,3.333],"labels":false,"tickSize":-7,"title":null}},"y":{"field":"v","type":"quantitative","scale":{"domain":[0,3],"nice":false,"zero":false},"axis":{"orient":"left","values":[0.75,1.5,2.25],"labels":false,"tickSize":-7,"title":null}},"order":{"field":"i"},"detail":{"field":"s"}}},
   {"data":{"name":"vortex"},"transform":[{"filter":"datum.p === 'B4.3'"}],"mark":{"type":"point","shape":"circle","size":55,"filled":false,"color":"black","strokeWidth":1.4,"opacity":1},"encoding":{"x":{"field":"h","type":"quantitative","axis":{"orient":"top","values":[-3.333,-1.667,0,1.667,3.333],"labels":false,"tickSize":-7,"title":null}},"y":{"field":"v","type":"quantitative","axis":{"orient":"right","values":[0.75,1.5,2.25],"labels":false,"tickSize":-7,"title":null}}}},
   {"data":{"name":"tags"},"transform":[{"filter":"datum.p === 'B4.3'"}],"mark":{"type":"text","angle":270,"font":"Liberation Sans","fontSize":19,"align":"center","baseline":"middle","color":"black"},"encoding":{"x":{"datum":-3.8,"axis":null},"y":{"datum":2.2,"axis":null},"text":{"field":"label"}}}
  ],"resolve":{"axis":{"x":"independent","y":"independent"}}},
  {"width":237,"height":158,"layer":[
   {"data":{"name":"curves"},"transform":[{"filter":"datum.p === 'B21.4'"}],"mark":{"type":"line","color":"black","strokeWidth":1.5,"interpolate":"catmull-rom","clip":true},"encoding":{"x":{"field":"h","type":"quantitative","scale":{"domain":[-5,5],"reverse":true,"nice":false,"zero":false},"axis":{"orient":"bottom","values":[-3.333,-1.667,0,1.667,3.333],"labels":false,"tickSize":-7,"title":null}},"y":{"field":"v","type":"quantitative","scale":{"domain":[0,3],"nice":false,"zero":false},"axis":{"orient":"left","values":[0.75,1.5,2.25],"labels":false,"tickSize":-7,"title":null}},"order":{"field":"i"},"detail":{"field":"s"}}},
   {"data":{"name":"vortex"},"transform":[{"filter":"datum.p === 'B21.4'"}],"mark":{"type":"point","shape":"circle","size":55,"filled":false,"color":"black","strokeWidth":1.4,"opacity":1},"encoding":{"x":{"field":"h","type":"quantitative","axis":{"orient":"top","values":[-3.333,-1.667,0,1.667,3.333],"labels":false,"tickSize":-7,"title":null}},"y":{"field":"v","type":"quantitative","axis":{"orient":"right","values":[0.75,1.5,2.25],"labels":false,"tickSize":-7,"title":null}}}},
   {"data":{"name":"tags"},"transform":[{"filter":"datum.p === 'B21.4'"}],"mark":{"type":"text","angle":270,"font":"Liberation Sans","fontSize":19,"align":"center","baseline":"middle","color":"black"},"encoding":{"x":{"datum":-3.8,"axis":null},"y":{"datum":2.2,"axis":null},"text":{"field":"label"}}}
  ],"resolve":{"axis":{"x":"independent","y":"independent"}}},
  {"width":237,"height":158,"layer":[
   {"data":{"name":"curves"},"transform":[{"filter":"datum.p === 'B0.0'"}],"mark":{"type":"line","color":"black","strokeWidth":1.5,"interpolate":"catmull-rom","clip":true},"encoding":{"x":{"field":"h","type":"quantitative","scale":{"domain":[-5,5],"reverse":true,"nice":false,"zero":false},"axis":{"orient":"bottom","values":[-5,-3.333,-1.667,0,1.667,3.333,5],"labelExpr":"datum.value > 4.9 ? '5.0' : (datum.value < -4.9 ? '-5.0' : (abs(datum.value) < 0.01 ? '0.0' : ''))","labelAngle":270,"labelAlign":"right","labelBaseline":"middle","labelPadding":25,"labelFlush":false,"labelOverlap":false,"labelBound":false,"tickSize":-7,"title":null}},"y":{"field":"v","type":"quantitative","scale":{"domain":[0,3],"nice":false,"zero":false},"axis":{"orient":"left","values":[0.75,1.5,2.25],"labels":false,"tickSize":-7,"title":null}},"order":{"field":"i"},"detail":{"field":"s"}}},
   {"data":{"name":"vortex"},"transform":[{"filter":"datum.p === 'B0.0'"}],"mark":{"type":"point","shape":"circle","size":55,"filled":false,"color":"black","strokeWidth":1.4,"opacity":1},"encoding":{"x":{"field":"h","type":"quantitative","axis":{"orient":"top","values":[-3.333,-1.667,0,1.667,3.333],"labels":false,"tickSize":-7,"title":null}},"y":{"field":"v","type":"quantitative","axis":{"orient":"right","values":[0,0.75,1.5,2.25,3],"labelExpr":"datum.value < 0.01 ? '0.0' : (abs(datum.value - 1.5) < 0.01 ? '1.5' : (datum.value > 2.99 ? '3.0' : ''))","labelAngle":270,"labelAlign":"center","labelBaseline":"top","labelPadding":25,"labelFlush":false,"labelOverlap":false,"labelBound":false,"tickSize":-7,"title":null}}}},
   {"data":{"name":"tags"},"transform":[{"filter":"datum.p === 'B0.0'"}],"mark":{"type":"text","angle":270,"font":"Liberation Sans","fontSize":19,"align":"center","baseline":"middle","color":"black"},"encoding":{"x":{"datum":-3.8,"axis":null},"y":{"datum":2.2,"axis":null},"text":{"field":"label"}}}
  ],"resolve":{"axis":{"x":"independent","y":"independent"}}},
  {"width":237,"height":158,"layer":[
   {"data":{"name":"curves"},"transform":[{"filter":"datum.p === 'B17.1'"}],"mark":{"type":"line","color":"black","strokeWidth":1.5,"interpolate":"catmull-rom","clip":true},"encoding":{"x":{"field":"h","type":"quantitative","scale":{"domain":[-5,5],"reverse":true,"nice":false,"zero":false},"axis":{"orient":"bottom","values":[-3.333,-1.667,0,1.667,3.333],"labels":false,"tickSize":-7,"title":null}},"y":{"field":"v","type":"quantitative","scale":{"domain":[0,3],"nice":false,"zero":false},"axis":{"orient":"left","values":[0.75,1.5,2.25],"labels":false,"tickSize":-7,"title":null}},"order":{"field":"i"},"detail":{"field":"s"}}},
   {"data":{"name":"vortex"},"transform":[{"filter":"datum.p === 'B17.1'"}],"mark":{"type":"point","shape":"circle","size":55,"filled":false,"color":"black","strokeWidth":1.4,"opacity":1},"encoding":{"x":{"field":"h","type":"quantitative","axis":{"orient":"top","values":[-3.333,-1.667,0,1.667,3.333],"labels":false,"tickSize":-7,"title":null}},"y":{"field":"v","type":"quantitative","axis":{"orient":"right","values":[0.75,1.5,2.25],"labels":false,"tickSize":-7,"title":null}}}},
   {"data":{"name":"tags"},"transform":[{"filter":"datum.p === 'B17.1'"}],"mark":{"type":"text","angle":270,"font":"Liberation Sans","fontSize":19,"align":"center","baseline":"middle","color":"black"},"encoding":{"x":{"datum":-3.8,"axis":null},"y":{"datum":2.2,"axis":null},"text":{"field":"label"}}}
  ],"resolve":{"axis":{"x":"independent","y":"independent"}}}
]}
],"spacing":70
}
